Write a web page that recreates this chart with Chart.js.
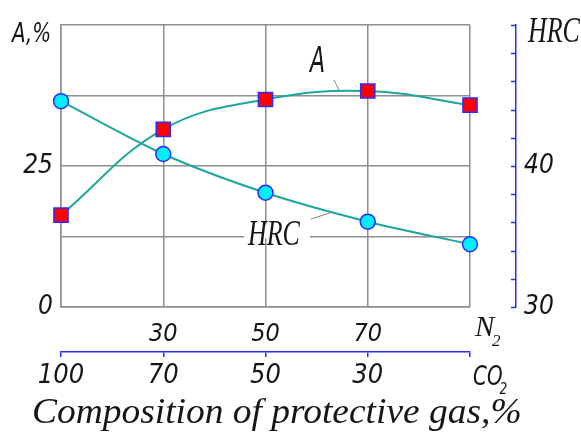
<!DOCTYPE html>
<html>
<head>
<meta charset="utf-8">
<script src="https://cdn.jsdelivr.net/npm/chart.js@4.4.1/dist/chart.umd.min.js"></script>
<style>
  html, body { margin: 0; padding: 0; background: #fff; }
  #wrap { width: 581px; height: 432px; }
</style>
</head>
<body>
<div id="wrap"><canvas id="c" width="581" height="432"></canvas></div>
<script>
// ---- data ----
const categories = [0, 1, 2, 3, 4];                 // composition steps
const n2TickLabels = ['', '30', '50', '70', ''];    // N2 %
const co2TickLabels = ['100', '70', '50', '30', '']; // CO2 %
const elongationA = [16.3, 31.5, 36.8, 38.3, 35.8]; // A, %
const hardnessHRC = [44.6, 40.85, 38.1, 36.05, 34.45]; // HRC
const aTickLabels = [0, 25];
const hrcTickLabels = [30, 40];
const xTitle = 'Composition of protective gas,%';

const NARROW = "'Liberation Sans Narrow', 'DejaVu Sans Condensed', 'Roboto Condensed', sans-serif";
const SERIF = "'Liberation Serif', 'DejaVu Serif', serif";
const GRID = '#8e8e8e';
const BLUE = '#2b2bff';
const TEAL = '#1ea59e';
const INK = '#161616';

function scaledText(ctx, text, x, y, size, sx, family) {
  ctx.save();
  ctx.font = 'italic ' + size + 'px ' + (family || SERIF);
  ctx.textBaseline = 'alphabetic';
  ctx.textAlign = 'left';
  ctx.translate(x, y);
  ctx.scale(sx, 1);
  ctx.fillStyle = INK;
  ctx.fillText(text, 0, 0);
  const w = ctx.measureText(text).width * sx;
  ctx.restore();
  return w;
}

const annotations = {
  id: 'annotations',
  afterDraw(chart) {
    const ctx = chart.ctx;
    const xs = chart.scales.x, ys = chart.scales.y, y2 = chart.scales.y2, x2 = chart.scales.x2;

    // inward ticks on HRC axis
    ctx.save();
    ctx.strokeStyle = BLUE; ctx.lineWidth = 1.5;
    y2.ticks.forEach(t => {
      const py = Math.round(y2.getPixelForValue(t.value)) + 0.5;
      ctx.beginPath(); ctx.moveTo(y2.left - 5, py); ctx.lineTo(y2.left, py); ctx.stroke();
    });
    ctx.restore();

    // axis titles
    scaledText(ctx, 'A,%', 12, ys.getPixelForValue(50) + 17, 26, 0.85, NARROW);
    scaledText(ctx, 'HRC', y2.left + 12, y2.getPixelForValue(50) + 17, 36, 0.72);

    // gas names at the last category
    const gx = xs.getPixelForValue(4);
    scaledText(ctx, 'N', gx + 5, ys.bottom + 29, 29, 1);
    scaledText(ctx, '2', gx + 22, ys.bottom + 39, 17, 1);
    const wCO = scaledText(ctx, 'CO', gx + 3, x2.top + 33, 26, 0.85, NARROW);
    scaledText(ctx, '2', gx + 3 + wCO - 3, x2.top + 42, 16, 0.85, NARROW);

    // curve labels with leaders
    ctx.save();
    ctx.strokeStyle = '#8a8090'; ctx.lineWidth = 1;
    ctx.beginPath(); ctx.moveTo(334, 80); ctx.lineTo(339, 90); ctx.stroke();
    ctx.restore();
    scaledText(ctx, 'A', 310, 72, 36, 0.68, NARROW);
    // HRC label: white box breaks the gridline
    ctx.save();
    const hy = ys.getPixelForValue(12.5);
    ctx.fillStyle = '#fff';
    ctx.fillRect(244, hy - 12, 66, 14);
    ctx.strokeStyle = '#8a8090'; ctx.lineWidth = 1;
    ctx.beginPath(); ctx.moveTo(311, 219); ctx.lineTo(331, 212.5); ctx.stroke();
    ctx.restore();
    scaledText(ctx, 'HRC', 248, 245, 36, 0.72);

    // bottom title
    scaledText(ctx, xTitle, 32, 423, 35, 1.07);
  }
};

new Chart(document.getElementById('c'), {
  type: 'line',
  data: {
    labels: categories,
    datasets: [
      {
        label: 'A', data: elongationA, xAxisID: 'x', yAxisID: 'y',
        borderColor: TEAL, borderWidth: 2, tension: 0.4, fill: false,
        pointStyle: 'rect', pointRadius: 10, pointBackgroundColor: '#ff0000',
        pointBorderColor: BLUE, pointBorderWidth: 1.5
      },
      {
        label: 'HRC', data: hardnessHRC, xAxisID: 'x', yAxisID: 'y2',
        borderColor: TEAL, borderWidth: 2, tension: 0.3, fill: false,
        pointStyle: 'circle', pointRadius: 7.5, pointBackgroundColor: '#00eeff',
        pointBorderColor: BLUE, pointBorderWidth: 1.5
      }
    ]
  },
  options: {
    responsive: false,
    animation: false,
    layout: { padding: { top: 25, left: 0, right: 0, bottom: 0 } },
    plugins: { legend: { display: false }, tooltip: { enabled: false } },
    scales: {
      x: {
        type: 'category', position: 'bottom', offset: false, weight: 0,
        grid: { color: GRID, lineWidth: 1.5, drawTicks: false },
        border: { color: GRID, width: 1.5 },
        ticks: {
          autoSkip: false, maxRotation: 0, padding: 12, color: INK,
          font: { family: NARROW, size: 25, style: 'italic' },
          callback: (v, i) => n2TickLabels[i]
        },
        afterFit: s => { s.height = 45; }
      },
      x2: {
        type: 'category', position: 'bottom', offset: false, weight: 1,
        labels: co2TickLabels,
        grid: { color: BLUE, lineWidth: 1.5, drawOnChartArea: false, drawTicks: true, tickLength: 5 },
        border: { color: BLUE, width: 1.5 },
        ticks: {
          autoSkip: false, maxRotation: 0, padding: 3, color: INK,
          font: { family: NARROW, size: 27, style: 'italic' }
        },
        afterFit: s => { s.height = 80; }
      },
      y: {
        type: 'linear', position: 'left', min: 0, max: 50,
        grid: { color: GRID, lineWidth: 1.5, drawTicks: false },
        border: { color: GRID, width: 1.5 },
        ticks: {
          stepSize: 12.5, autoSkip: false, padding: 8, color: INK,
          font: { family: NARROW, size: 26, style: 'italic' },
          callback: v => aTickLabels.includes(v) ? String(v) : ''
        },
        afterFit: s => { s.width = 61; }
      },
      gap: {
        type: 'linear', position: 'right', weight: 0,
        grid: { display: false, drawTicks: false }, border: { display: false },
        ticks: { display: false },
        afterFit: s => { s.width = 46; }
      },
      y2: {
        type: 'linear', position: 'right', min: 30, max: 50, weight: 1,
        grid: { display: false, drawTicks: false, drawOnChartArea: false },
        border: { color: BLUE, width: 1.5 },
        ticks: {
          stepSize: 2, autoSkip: false, padding: 8, color: INK,
          font: { family: NARROW, size: 26, style: 'italic' },
          callback: v => hrcTickLabels.includes(v) ? String(v) : ''
        },
        afterFit: s => { s.width = 65; }
      }
    }
  },
  plugins: [annotations]
});
</script>
</body>
</html>
